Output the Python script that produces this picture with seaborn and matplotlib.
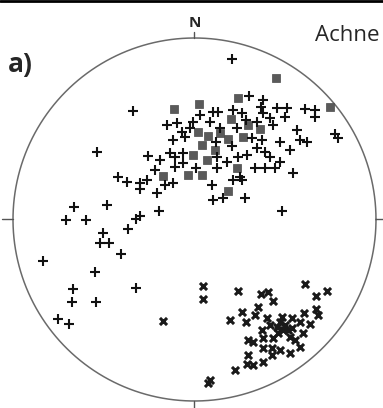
import numpy as np
import pandas as pd
import seaborn as sns
import matplotlib.pyplot as plt

# projected positions in the unit circle (east, north)
plus_east = [0.207, -0.339, 0.300, 0.377, 0.366, 0.455, 0.510, 0.609, 0.664, 0.664,
             0.499, 0.102, 0.129, -0.152, -0.096, -0.008, 0.085, 0.141, 0.212, 0.262,
             0.284, 0.344, 0.377, 0.416, 0.433, 0.565, -0.069, -0.052, -0.118, -0.135,
             -0.107, -0.063, -0.190, -0.218, -0.107, -0.063, 0.124, 0.179, 0.240, 0.289,
             0.344, 0.388, 0.416, 0.471, 0.333, 0.388, 0.444, 0.124, 0.251, 0.096,
             0.212, 0.262, 0.102, 0.157, 0.278, 0.543, -0.207, 0.620, 0.774, 0.791,
             0.482, -0.256, -0.537, -0.421, -0.372, -0.300, -0.262, -0.300, -0.118, -0.664,
             -0.482, -0.708, -0.598, -0.196, -0.322, -0.300, -0.366, -0.504, -0.521, -0.471,
             -0.405, -0.835, -0.548, -0.669, -0.322, -0.675, -0.543, -0.752, -0.691,
             0.030, -0.025, 0.234, 0.317, 0.471, 0.526, 0.372, 0.118, 0.008, -0.163,
             0.207, 0.581]
plus_north = [0.884, 0.598, 0.680, 0.658, 0.620, 0.614, 0.614, 0.609, 0.603, 0.565,
              0.565, 0.592, 0.592, 0.521, 0.532, 0.537, 0.537, 0.504, 0.603, 0.587,
              0.548, 0.537, 0.587, 0.559, 0.521, 0.493, 0.482, 0.455, 0.438, 0.366,
              0.344, 0.366, 0.328, 0.273, 0.289, 0.311, 0.344, 0.317, 0.344, 0.355,
              0.394, 0.372, 0.344, 0.317, 0.284, 0.284, 0.284, 0.284, 0.234, 0.190,
              0.218, 0.218, 0.107, 0.118, 0.118, 0.256, 0.146, 0.427, 0.471, 0.449,
              0.047, 0.350, 0.372, 0.234, 0.207, 0.201, 0.218, 0.168, 0.201, 0.069,
              0.080, -0.003, -0.003, 0.047, 0.003, 0.019, -0.052, -0.074, -0.129, -0.129,
              -0.190, -0.229, -0.289, -0.383, -0.377, -0.455, -0.455, -0.548, -0.576,
              0.576, 0.504, 0.504, 0.449, 0.427, 0.383, 0.438, 0.427, 0.284, 0.190,
              0.405, 0.438]

square_east = [0.449, 0.747, -0.113, 0.025, 0.240, 0.201, 0.295, 0.361, 0.019, 0.074,
               0.185, 0.041, -0.008, 0.069, -0.174, -0.036, 0.041, 0.234, 0.185, 0.267,
               0.113, 0.141]
square_north = [0.780, 0.620, 0.609, 0.636, 0.669, 0.554, 0.521, 0.499, 0.482, 0.460,
                0.444, 0.410, 0.355, 0.328, 0.240, 0.245, 0.245, 0.284, 0.157, 0.455,
                0.383, 0.477]

cross_east = [0.047, 0.047, -0.174, 0.240, 0.366, 0.405, 0.433, 0.609, 0.669, 0.730,
              0.262, 0.196, 0.284, 0.350, 0.333, 0.399, 0.372, 0.455, 0.482, 0.537,
              0.581, 0.603, 0.669, 0.680, 0.636, 0.598, 0.526, 0.488, 0.460, 0.433,
              0.377, 0.295, 0.322, 0.377, 0.427, 0.471, 0.526, 0.581, 0.427, 0.295,
              0.289, 0.322, 0.377, 0.223, 0.085, 0.074,
              0.499, 0.515, 0.471, 0.537, 0.554, 0.416]
cross_north = [-0.366, -0.438, -0.559, -0.394, -0.410, -0.399, -0.449, -0.355, -0.421, -0.394,
               -0.510, -0.554, -0.565, -0.482, -0.526, -0.543, -0.609, -0.592, -0.537, -0.543,
               -0.565, -0.515, -0.493, -0.526, -0.576, -0.625, -0.647, -0.609, -0.625, -0.653,
               -0.653, -0.664, -0.675, -0.708, -0.708, -0.719, -0.736, -0.702, -0.747, -0.747,
               -0.796, -0.802, -0.785, -0.829, -0.884, -0.901,
               -0.581, -0.609, -0.565, -0.598, -0.664, -0.581]

plus_df = pd.DataFrame({"east": plus_east, "north": plus_north})
square_df = pd.DataFrame({"east": square_east, "north": square_north})
cross_df = pd.DataFrame({"east": cross_east, "north": cross_north})

sns.set_style("white")
plt.rcParams['font.family'] = ['Open Sans', 'DejaVu Sans']

fig = plt.figure(figsize=(3.83, 4.08), dpi=100)
ax = fig.add_axes([0, 0, 1, 1])
ax.set_xlim(-1.0716, 1.0386)
ax.set_ylim(-1.0386, 1.2094)
ax.set_aspect("equal")
ax.axis("off")

# primitive circle and cardinal ticks
t = np.linspace(0, 2 * np.pi, 400)
ax.plot(np.cos(t), np.sin(t), color="#6a6a6a", lw=1.1)
ax.plot([0, 0], [1.0, 1.035], color="#555555", lw=1.0)
ax.plot([0, 0], [-1.0, -1.05], color="#555555", lw=1.0)
ax.plot([-1.0, -1.06], [0, 0], color="#555555", lw=1.0)
ax.plot([1.0, 1.05], [0, 0], color="#555555", lw=1.0)

sns.scatterplot(data=square_df, x="east", y="north", marker="s", s=36,
                color="#5a5a5a", edgecolor="#4a4a4a", linewidth=0.5, ax=ax, zorder=3)
sns.scatterplot(data=plus_df, x="east", y="north", marker="+", s=50,
                color="#111111", linewidth=1.5, ax=ax, zorder=4)
sns.scatterplot(data=cross_df, x="east", y="north", marker="x", s=26,
                color="#1a1a1a", linewidth=2.2, ax=ax, zorder=4)

ax.text(0, 1.058, "N", ha="center", va="baseline", fontsize=11, fontweight="bold")
ax.text(-1.03, 0.81, "a)", ha="left", va="baseline", fontsize=19, fontweight="bold")
ax.text(0.665, 0.983, "Achne", ha="left", va="baseline", fontsize=16)

# frame line along the top edge
ax.plot([-1.0716, 1.0386], [1.2015, 1.2015], color="black", lw=2.0, clip_on=False)

fig.savefig("out.png", dpi=100)
